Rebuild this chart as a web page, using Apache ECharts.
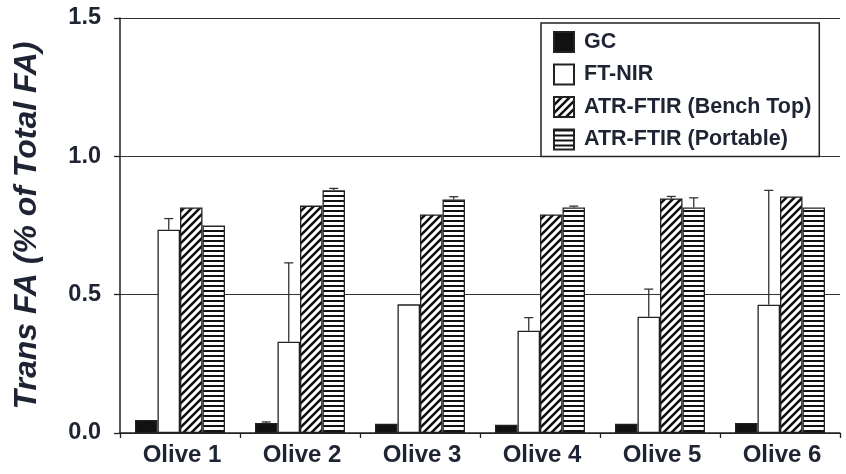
<!DOCTYPE html>
<html>
<head>
<meta charset="utf-8">
<script src="https://cdn.jsdelivr.net/npm/echarts@6/dist/echarts.min.js"></script>
<style>html,body{margin:0;padding:0;background:#fff}#c{width:846px;height:474px}</style>
</head>
<body>
<div id="c"></div>
<script>
var categories = ['Olive 1', 'Olive 2', 'Olive 3', 'Olive 4', 'Olive 5', 'Olive 6'];
var seriesNames = ['GC', 'FT-NIR', 'ATR-FTIR (Bench Top)', 'ATR-FTIR (Portable)'];
var gcValues = [0.047, 0.036, 0.033, 0.030, 0.033, 0.036];
var ftnirValues = [0.735, 0.33, 0.465, 0.37, 0.42, 0.464];
var benchValues = [0.815, 0.822, 0.79, 0.79, 0.848, 0.855];
var portableValues = [0.75, 0.877, 0.844, 0.815, 0.815, 0.815];
var gcErr = [0, 0.004, 0, 0, 0, 0];
var ftnirErr = [0.04, 0.285, 0, 0.047, 0.10, 0.413];
var benchErr = [0, 0, 0, 0, 0.007, 0];
var portableErr = [0, 0.007, 0.01, 0.005, 0.035, 0];
var yTicks = [0, 0.5, 1.0, 1.5];

function makeDiag() {
  var c = document.createElement('canvas');
  c.width = 8; c.height = 8;
  var g = c.getContext('2d');
  g.fillStyle = '#fff'; g.fillRect(0, 0, 8, 8);
  g.strokeStyle = '#111'; g.lineWidth = 2.6;
  g.beginPath();
  g.moveTo(-2, 10); g.lineTo(10, -2);
  g.moveTo(-6, 6); g.lineTo(6, -6);
  g.moveTo(2, 14); g.lineTo(14, 2);
  g.stroke();
  return c;
}
function makeHoriz() {
  var c = document.createElement('canvas');
  c.width = 5; c.height = 5;
  var g = c.getContext('2d');
  g.fillStyle = '#fff'; g.fillRect(0, 0, 5, 5);
  g.fillStyle = '#111'; g.fillRect(0, 0, 5, 2);
  return c;
}

var valueSets = [gcValues, ftnirValues, benchValues, portableValues];
var errSets = [gcErr, ftnirErr, benchErr, portableErr];
var fills = ['#111', '#fff', {image: makeDiag(), repeat: 'repeat'}, {image: makeHoriz(), repeat: 'repeat'}];

var series = [];
for (var i = 0; i < 4; i++) {
  series.push({
    name: seriesNames[i],
    type: 'bar',
    data: valueSets[i],
    barGap: '0%',
    barCategoryGap: '25%',
    itemStyle: {color: fills[i], borderColor: '#222', borderWidth: 1.3},
    emphasis: {disabled: true},
    z: 2
  });
}
var errData = [];
for (var s = 0; s < 4; s++) {
  for (var k = 0; k < categories.length; k++) {
    if (errSets[s][k] > 0) errData.push([k, valueSets[s][k], valueSets[s][k] + errSets[s][k], s]);
  }
}
series.push({
  type: 'custom',
  data: errData,
  z: 3,
  silent: true,
  renderItem: function (params, api) {
    var k = api.value(0), lo = api.value(1), hi = api.value(2), s = api.value(3);
    var band = api.size([1, 0])[0];
    var bw = band * 0.75 / 4;
    var p0 = api.coord([k, lo]);
    var p1 = api.coord([k, hi]);
    var x = p0[0] + (s - 1.5) * bw;
    var style = {stroke: '#333', lineWidth: 1.3};
    return {
      type: 'group',
      children: [
        {type: 'line', shape: {x1: x, y1: p0[1], x2: x, y2: p1[1]}, style: style},
        {type: 'line', shape: {x1: x - 4.5, y1: p1[1], x2: x + 4.5, y2: p1[1]}, style: style}
      ]
    };
  }
});

var FONT = 'Liberation Sans, Arial, Helvetica, sans-serif';
var TXT = '#1e2433';
var chart = echarts.init(document.getElementById('c'));
chart.setOption({
  animation: false,
  backgroundColor: '#fff',
  grid: {left: 120, right: 6, top: 18, bottom: 41, containLabel: false},
  legend: {
    data: seriesNames,
    orient: 'vertical',
    left: 541,
    top: 23,
    icon: 'rect',
    itemWidth: 20,
    itemHeight: 20,
    itemGap: 10.5,
    padding: [8, 8, 6, 12],
    backgroundColor: '#fff',
    borderColor: '#222',
    borderWidth: 1.5,
    borderRadius: 0,
    selectedMode: false,
    textStyle: {fontFamily: FONT, fontWeight: 'bold', fontSize: 21.5, color: TXT, padding: [0, 0, 0, 5]}
  },
  xAxis: {
    type: 'category',
    data: categories,
    axisLine: {lineStyle: {color: '#222', width: 1.5}},
    axisTick: {show: true, alignWithLabel: false, length: 5, lineStyle: {color: '#222', width: 1.3}},
    axisLabel: {fontFamily: FONT, fontWeight: 'bold', fontSize: 24, color: TXT, margin: 10, padding: [0, 0, 0, 4]}
  },
  yAxis: {
    type: 'value',
    min: 0, max: 1.5, interval: 0.5,
    name: 'Trans FA (% of Total FA)',
    nameLocation: 'middle',
    nameRotate: 90,
    nameGap: 77,
    nameTextStyle: {fontFamily: FONT, fontWeight: 'bold', fontStyle: 'italic', fontSize: 32, color: TXT},
    axisLine: {show: true, lineStyle: {color: '#222', width: 1.5}},
    axisTick: {show: true, length: 6, lineStyle: {color: '#222', width: 1.3}},
    splitLine: {show: true, lineStyle: {color: '#333', width: 1.2}},
    axisLabel: {
      fontFamily: FONT, fontWeight: 'bold', fontSize: 23.5, color: TXT, margin: 19,
      formatter: function (v) { return yTicks.indexOf(v) >= 0 ? v.toFixed(1) : ''; }
    }
  },
  series: series
});
</script>
</body>
</html>
